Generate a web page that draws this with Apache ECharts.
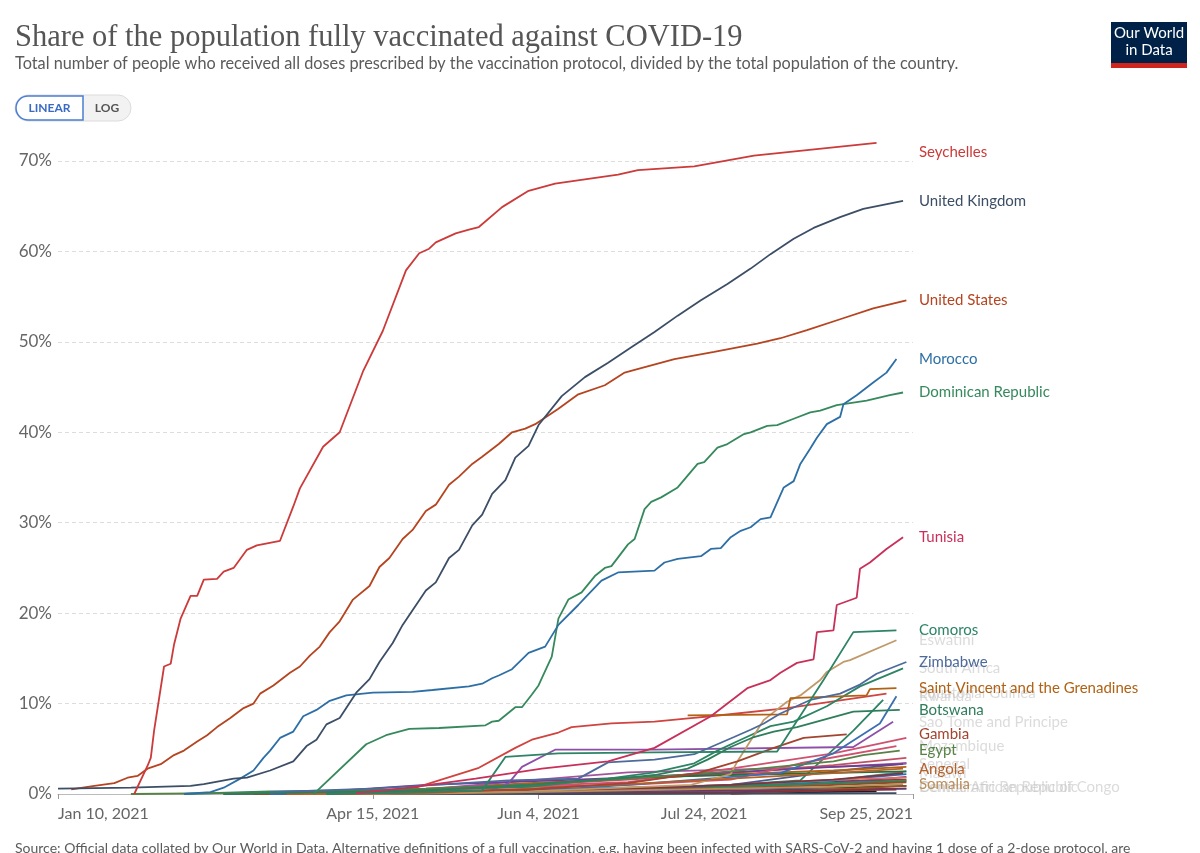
<!DOCTYPE html>
<html>
<head>
<meta charset="utf-8">
<script src="https://cdn.jsdelivr.net/npm/echarts@6/dist/echarts.min.js"></script>
<style>
  html, body { margin: 0; padding: 0; background: #fff; }
  #container { width: 1200px; height: 853px; }
</style>
</head>
<body>
<div id="container"></div>
<script>
// share of population fully vaccinated, %
var seychelles = [['2021-02-02',0],['2021-02-06',3.1],['2021-02-07',4.0],['2021-02-08',7.0],['2021-02-11',14.1],['2021-02-13',14.4],['2021-02-14',16.5],['2021-02-16',19.4],['2021-02-19',21.9],['2021-02-21',21.9],['2021-02-23',23.7],['2021-02-27',23.8],['2021-03-01',24.6],['2021-03-04',25.0],['2021-03-08',27.0],['2021-03-11',27.5],['2021-03-18',28.0],['2021-03-22',31.8],['2021-03-24',33.8],['2021-03-31',38.4],['2021-04-05',40.0],['2021-04-12',46.7],['2021-04-18',51.2],['2021-04-25',57.9],['2021-04-29',59.8],['2021-05-02',60.3],['2021-05-04',61.0],['2021-05-10',62.0],['2021-05-14',62.4],['2021-05-17',62.7],['2021-05-24',64.9],['2021-06-01',66.7],['2021-06-09',67.5],['2021-06-28',68.5],['2021-07-04',69.0],['2021-07-21',69.4],['2021-08-08',70.6],['2021-08-24',71.2],['2021-09-14',72.0]];
var unitedKingdom = [['2021-01-10',0.6],['2021-02-01',0.7],['2021-02-19',0.9],['2021-02-23',1.1],['2021-03-04',1.7],['2021-03-08',1.8],['2021-03-15',2.6],['2021-03-22',3.6],['2021-03-26',5.3],['2021-03-29',6.0],['2021-04-01',7.7],['2021-04-05',8.4],['2021-04-10',11.2],['2021-04-14',12.7],['2021-04-17',14.6],['2021-04-21',16.7],['2021-04-24',18.7],['2021-05-01',22.5],['2021-05-04',23.4],['2021-05-08',26.1],['2021-05-11',27.0],['2021-05-15',29.7],['2021-05-18',30.9],['2021-05-21',33.2],['2021-05-25',34.7],['2021-05-28',37.2],['2021-06-01',38.5],['2021-06-04',40.8],['2021-06-11',44.0],['2021-06-18',46.1],['2021-06-25',47.7],['2021-07-02',49.4],['2021-07-09',51.1],['2021-07-16',52.9],['2021-07-23',54.6],['2021-07-31',56.4],['2021-08-07',58.1],['2021-08-13',59.7],['2021-08-20',61.4],['2021-08-26',62.6],['2021-09-03',63.8],['2021-09-10',64.7],['2021-09-22',65.6]];
var unitedStates = [['2021-01-14',0.5],['2021-01-21',0.9],['2021-01-27',1.2],['2021-01-31',1.8],['2021-02-03',2.0],['2021-02-06',2.8],['2021-02-10',3.3],['2021-02-14',4.3],['2021-02-17',4.8],['2021-02-21',5.8],['2021-02-24',6.5],['2021-02-27',7.4],['2021-03-03',8.4],['2021-03-07',9.5],['2021-03-10',10.0],['2021-03-12',11.1],['2021-03-16',12.0],['2021-03-21',13.4],['2021-03-24',14.1],['2021-03-27',15.3],['2021-03-30',16.3],['2021-04-02',17.9],['2021-04-05',19.1],['2021-04-09',21.5],['2021-04-14',23.0],['2021-04-17',25.1],['2021-04-20',26.1],['2021-04-24',28.2],['2021-04-27',29.2],['2021-05-01',31.3],['2021-05-04',32.0],['2021-05-08',34.2],['2021-05-11',35.1],['2021-05-15',36.5],['2021-05-18',37.3],['2021-05-23',38.7],['2021-05-27',40.0],['2021-05-31',40.4],['2021-06-03',40.9],['2021-06-10',42.6],['2021-06-16',44.2],['2021-06-24',45.2],['2021-06-30',46.6],['2021-07-03',46.9],['2021-07-15',48.1],['2021-07-27',48.9],['2021-08-09',49.8],['2021-08-16',50.4],['2021-08-24',51.3],['2021-09-03',52.5],['2021-09-13',53.7],['2021-09-23',54.6]];
var morocco = [['2021-02-17',0],['2021-02-25',0.2],['2021-03-01',0.7],['2021-03-06',1.7],['2021-03-10',2.6],['2021-03-13',4.0],['2021-03-15',4.8],['2021-03-18',6.2],['2021-03-22',6.9],['2021-03-25',8.6],['2021-03-29',9.3],['2021-04-02',10.3],['2021-04-07',10.9],['2021-04-15',11.2],['2021-04-27',11.3],['2021-05-03',11.5],['2021-05-14',11.9],['2021-05-18',12.2],['2021-05-21',12.8],['2021-05-23',13.1],['2021-05-27',13.8],['2021-06-01',15.6],['2021-06-06',16.3],['2021-06-10',18.7],['2021-06-16',20.9],['2021-06-18',21.7],['2021-06-23',23.6],['2021-06-28',24.5],['2021-07-09',24.7],['2021-07-12',25.6],['2021-07-16',26.0],['2021-07-23',26.3],['2021-07-26',27.1],['2021-07-29',27.2],['2021-08-01',28.4],['2021-08-04',29.1],['2021-08-07',29.5],['2021-08-10',30.4],['2021-08-13',30.6],['2021-08-17',33.9],['2021-08-20',34.6],['2021-08-22',36.5],['2021-08-25',38.2],['2021-08-27',39.4],['2021-08-30',40.9],['2021-09-03',41.7],['2021-09-04',43.1],['2021-09-08',44.1],['2021-09-13',45.5],['2021-09-17',46.6],['2021-09-20',48.1]];
var dominicanRepublic = [['2021-03-28',0],['2021-03-29',0.3],['2021-04-13',5.5],['2021-04-19',6.5],['2021-04-26',7.2],['2021-05-05',7.3],['2021-05-19',7.6],['2021-05-21',8.0],['2021-05-23',8.1],['2021-05-28',9.6],['2021-05-30',9.6],['2021-06-02',11.0],['2021-06-04',12.0],['2021-06-08',15.2],['2021-06-10',19.4],['2021-06-13',21.5],['2021-06-17',22.3],['2021-06-21',24.1],['2021-06-24',25.0],['2021-06-26',25.2],['2021-07-01',27.6],['2021-07-03',28.2],['2021-07-06',31.5],['2021-07-08',32.3],['2021-07-11',32.8],['2021-07-16',33.9],['2021-07-19',35.2],['2021-07-22',36.5],['2021-07-24',36.7],['2021-07-28',38.3],['2021-07-31',38.7],['2021-08-05',39.8],['2021-08-07',40.0],['2021-08-12',40.7],['2021-08-15',40.8],['2021-08-20',41.5],['2021-08-25',42.2],['2021-08-28',42.4],['2021-09-02',43.0],['2021-09-11',43.5],['2021-09-18',44.1],['2021-09-22',44.4]];
var tunisia = [['2021-04-10',0.1],['2021-04-26',0.7],['2021-05-06',1.2],['2021-05-16',1.7],['2021-06-05',2.8],['2021-06-25',3.6],['2021-07-09',5.1],['2021-07-26',8.6],['2021-08-06',11.7],['2021-08-13',12.6],['2021-08-16',13.4],['2021-08-21',14.5],['2021-08-26',14.9],['2021-08-27',17.9],['2021-09-01',18.1],['2021-09-02',20.9],['2021-09-08',21.7],['2021-09-09',24.9],['2021-09-12',25.6],['2021-09-17',27.1],['2021-09-22',28.4]];
var comoros = [['2021-04-01',0],['2021-05-01',0.2],['2021-05-18',0.4],['2021-05-25',4.1],['2021-06-10',4.5],['2021-07-09',4.6],['2021-08-15',4.7],['2021-08-29',12.6],['2021-09-07',17.9],['2021-09-20',18.1]];
var eswatini = [['2021-04-01',0],['2021-06-01',0.3],['2021-07-20',1.0],['2021-08-01',2.2],['2021-08-03',3.6],['2021-08-11',8.2],['2021-08-18',10.2],['2021-08-22',10.9],['2021-08-28',12.6],['2021-08-30',13.5],['2021-09-04',14.6],['2021-09-06',14.8],['2021-09-20',17.0]];
var zimbabwe = [['2021-03-15',0.2],['2021-04-15',0.6],['2021-05-26',1.5],['2021-06-16',1.7],['2021-06-25',3.5],['2021-07-09',3.8],['2021-07-21',4.4],['2021-08-02',6.3],['2021-08-07',7.1],['2021-08-11',7.8],['2021-08-16',8.9],['2021-08-25',10.4],['2021-09-03',11.1],['2021-09-09',12.1],['2021-09-14',13.3],['2021-09-23',14.6]];
var southAfrica = [['2021-02-17',0],['2021-03-15',0.3],['2021-05-01',0.5],['2021-06-01',0.8],['2021-06-25',1.7],['2021-07-09',2.4],['2021-07-21',3.4],['2021-07-28',4.8],['2021-08-04',6.0],['2021-08-13',7.5],['2021-08-20',8.0],['2021-08-30',9.7],['2021-09-09',11.9],['2021-09-22',13.9]];
var saintVincent = [['2021-07-19',8.7],['2021-08-18',8.8],['2021-08-19',10.6],['2021-09-11',10.9],['2021-09-12',11.6],['2021-09-20',11.7]];
var equatorialGuinea = [['2021-03-20',0],['2021-04-10',0.1],['2021-04-27',0.6],['2021-05-17',2.9],['2021-05-28',5.1],['2021-06-02',6.0],['2021-06-10',6.8],['2021-06-14',7.4],['2021-06-26',7.8],['2021-07-09',8.0],['2021-07-20',8.4],['2021-07-26',8.6],['2021-08-18',9.5],['2021-09-17',11.1]];
var rwanda = [['2021-03-15',0],['2021-04-15',0.2],['2021-06-01',0.3],['2021-07-01',1.0],['2021-08-16',2.3],['2021-09-01',4.5],['2021-09-15',7.8],['2021-09-20',10.8]];
var botswana = [['2021-03-01',0],['2021-04-01',0.2],['2021-05-01',0.4],['2021-06-01',1.0],['2021-07-01',1.8],['2021-07-09',2.1],['2021-07-19',2.8],['2021-07-25',3.8],['2021-08-01',5.2],['2021-08-08',6.3],['2021-08-14',6.9],['2021-08-21',7.4],['2021-09-07',9.1],['2021-09-21',9.3]];
var saoTome = [['2021-04-01',0],['2021-05-20',0.3],['2021-05-26',1.2],['2021-05-30',3.0],['2021-06-09',4.9],['2021-07-09',4.9],['2021-09-07',5.2],['2021-09-19',8.0]];
var gambia = [['2021-04-01',0],['2021-06-01',0.5],['2021-07-01',1.2],['2021-07-22',2.3],['2021-08-03',3.6],['2021-08-14',5.1],['2021-08-23',6.2],['2021-09-05',6.6]];
var mozambique = [['2021-04-01',0],['2021-06-01',0.8],['2021-07-01',1.0],['2021-08-01',1.6],['2021-08-22',3.4],['2021-09-20',5.3]];
var egypt = [['2021-02-01',0],['2021-03-01',0.1],['2021-04-01',0.3],['2021-05-01',0.6],['2021-06-01',1.0],['2021-07-01',1.7],['2021-08-01',2.5],['2021-09-01',3.6],['2021-09-10',4.3],['2021-09-21',4.8]];
var senegal = [['2021-03-01',0],['2021-04-01',0.3],['2021-05-01',1.0],['2021-06-01',1.4],['2021-07-01',1.8],['2021-08-01',2.4],['2021-09-01',3.0],['2021-09-22',3.3]];
var angola = [['2021-03-20',0],['2021-05-01',0.1],['2021-06-01',0.6],['2021-07-01',1.1],['2021-08-01',1.7],['2021-09-01',2.3],['2021-09-22',2.8]];
var malawi = [['2021-04-01',0],['2021-06-01',0.4],['2021-07-01',0.6],['2021-08-01',1.0],['2021-09-01',1.6],['2021-09-22',2.3]];
var somalia = [['2021-03-25',0],['2021-05-01',0.05],['2021-06-01',0.2],['2021-07-01',0.4],['2021-08-01',0.6],['2021-09-01',0.8],['2021-09-22',1.1]];
var centralAfricanRepublic = [['2021-05-01',0],['2021-07-01',0.1],['2021-08-01',0.2],['2021-09-20',0.5]];
var drCongo = [['2021-04-20',0],['2021-06-01',0.01],['2021-08-01',0.05],['2021-09-20',0.1]];
var kenya = [['2021-03-05',0],['2021-05-01',0.05],['2021-06-01',0.1],['2021-07-01',0.5],['2021-08-01',0.9],['2021-09-01',1.4],['2021-09-23',1.6]];
var ghana = [['2021-03-01',0],['2021-04-01',0.05],['2021-05-25',0.3],['2021-06-20',0.5],['2021-08-01',0.8],['2021-09-01',1.5],['2021-09-23',2.2]];
var nigeria = [['2021-03-05',0],['2021-06-01',0.1],['2021-07-01',0.5],['2021-08-01',0.6],['2021-09-01',0.7],['2021-09-23',0.9]];
var uganda = [['2021-03-10',0],['2021-06-01',0.1],['2021-07-01',0.3],['2021-08-01',0.8],['2021-09-01',1.2],['2021-09-23',1.9]];
var ethiopia = [['2021-03-13',0],['2021-06-01',0.2],['2021-07-01',0.5],['2021-08-01',0.7],['2021-09-01',1.2],['2021-09-23',1.5]];
var cameroon = [['2021-04-12',0],['2021-06-01',0.1],['2021-08-01',0.3],['2021-09-23',0.6]];
var zambia = [['2021-04-14',0],['2021-06-01',0.3],['2021-07-01',0.6],['2021-08-01',1.0],['2021-09-01',1.6],['2021-09-23',1.8]];
var namibia = [['2021-03-17',0],['2021-05-01',0.1],['2021-06-01',0.3],['2021-07-01',0.6],['2021-08-01',1.0],['2021-08-22',1.5],['2021-09-07',7.0],['2021-09-16',10.4]];
var coteDIvoire = [['2021-03-01',0],['2021-04-01',0.1],['2021-06-01',0.4],['2021-08-01',1.0],['2021-09-01',1.5],['2021-09-23',2.5]];
var liberia = [['2021-03-15',0],['2021-05-01',0.1],['2021-07-01',0.3],['2021-08-01',1.0],['2021-09-01',2.5],['2021-09-23',3.4]];
var guinea = [['2021-03-01',0],['2021-04-01',0.2],['2021-05-01',0.6],['2021-06-01',1.2],['2021-07-01',1.7],['2021-08-01',2.2],['2021-09-01',2.6],['2021-09-23',3.0]];
var togo = [['2021-03-10',0],['2021-05-01',0.5],['2021-06-01',1.5],['2021-07-01',2.4],['2021-08-01',2.7],['2021-09-01',3.0],['2021-09-23',3.4]];
var mauritania = [['2021-03-26',0],['2021-05-01',0.5],['2021-06-01',1.0],['2021-07-01',1.6],['2021-08-01',2.3],['2021-09-01',3.2],['2021-09-23',4.0]];
var sierraLeone = [['2021-03-15',0],['2021-05-01',0.2],['2021-06-01',0.5],['2021-07-01',0.7],['2021-08-01',0.9],['2021-09-01',1.2],['2021-09-23',1.4]];
var lesotho = [['2021-03-10',0],['2021-05-01',0.5],['2021-06-01',0.9],['2021-07-01',1.3],['2021-08-01',2.8],['2021-09-01',4.5],['2021-09-23',6.2]];
var chad = [['2021-06-04',0],['2021-08-01',0.1],['2021-09-14',0.3]];
var sudan = [['2021-03-10',0],['2021-06-01',0.2],['2021-08-01',0.6],['2021-09-23',1.3]];
var niger = [['2021-04-01',0],['2021-06-01',0.2],['2021-08-01',0.4],['2021-09-23',0.6]];
var djibouti = [['2021-03-20',0],['2021-05-01',0.5],['2021-06-01',1.0],['2021-07-01',1.8],['2021-08-01',2.1],['2021-09-23',2.5]];
var tanzania = [['2021-08-01',0],['2021-09-01',0.5],['2021-09-23',0.9]];

var xTicks = ['2021-01-10', '2021-04-15', '2021-06-04', '2021-07-24', '2021-09-25'];
var yTicks = [0, 10, 20, 30, 40, 50, 60, 70];

// name, data, colour, label ('' none, 'on' solid, 'off' faded)
var countries = [
  ['Kenya', kenya, '#883039', ''],
  ['Ghana', ghana, '#286bbb', ''],
  ['Nigeria', nigeria, '#18470f', ''],
  ['Uganda', uganda, '#6d3e91', ''],
  ['Ethiopia', ethiopia, '#578145', ''],
  ['Cameroon', cameroon, '#996d39', ''],
  ['Zambia', zambia, '#e56e5a', ''],
  ['Namibia', namibia, '#2c8465', ''],
  ["Cote d'Ivoire", coteDIvoire, '#38aaba', ''],
  ['Liberia', liberia, '#4c5a8c', ''],
  ['Guinea', guinea, '#b16214', ''],
  ['Togo', togo, '#a2559c', ''],
  ['Mauritania', mauritania, '#c15065', ''],
  ['Sierra Leone', sierraLeone, '#2c8465', ''],
  ['Lesotho', lesotho, '#d05070', ''],
  ['Chad', chad, '#1d1d1d', ''],
  ['Sudan', sudan, '#8c4d2b', ''],
  ['Niger', niger, '#5a3b80', ''],
  ['Djibouti', djibouti, '#2c6e3a', ''],
  ['Tanzania', tanzania, '#9a5129', ''],
  ['Central African Republic', centralAfricanRepublic, '#883039', 'off'],
  ['Democratic Republic of Congo', drCongo, '#3c4e66', 'off'],
  ['Somalia', somalia, '#bc8e5a', 'on'],
  ['Malawi', malawi, '#883039', 'off'],
  ['Angola', angola, '#b6602a', 'on'],
  ['Senegal', senegal, '#6d3e91', 'off'],
  ['Egypt', egypt, '#578145', 'on'],
  ['Mozambique', mozambique, '#d05070', 'off'],
  ['Gambia', gambia, '#a2442f', 'on'],
  ['Sao Tome and Principe', saoTome, '#8e4fa8', 'off'],
  ['Botswana', botswana, '#2e7d5b', 'on'],
  ['Rwanda', rwanda, '#3c6eb4', 'off'],
  ['Equatorial Guinea', equatorialGuinea, '#d0433f', 'off'],
  ['Saint Vincent and the Grenadines', saintVincent, '#b16214', 'on'],
  ['South Africa', southAfrica, '#2c8465', 'off'],
  ['Zimbabwe', zimbabwe, '#4c6a9c', 'on'],
  ['Eswatini', eswatini, '#c19a6b', 'off'],
  ['Comoros', comoros, '#2c8465', 'on'],
  ['Tunisia', tunisia, '#c8305a', 'on'],
  ['Dominican Republic', dominicanRepublic, '#36895c', 'on'],
  ['Morocco', morocco, '#2d6fa5', 'on'],
  ['United States', unitedStates, '#b5441f', 'on'],
  ['United Kingdom', unitedKingdom, '#3c4e66', 'on'],
  ['Seychelles', seychelles, '#cc3a3a', 'on']
];

var MONTHS = ['Jan', 'Feb', 'Mar', 'Apr', 'May', 'Jun', 'Jul', 'Aug', 'Sep', 'Oct', 'Nov', 'Dec'];
function toTime(s) {
  var p = s.split('-');
  return Date.UTC(+p[0], +p[1] - 1, +p[2]);
}
function fmtDate(v) {
  var d = new Date(v);
  return MONTHS[d.getUTCMonth()] + ' ' + d.getUTCDate() + ', ' + d.getUTCFullYear();
}

var tickTimes = xTicks.map(toTime);

var dom = document.getElementById('container');
var myChart = echarts.init(dom, null, { renderer: 'canvas' });

var series = countries.map(function (c) {
  return {
    name: c[0],
    type: 'line',
    data: c[1].map(function (p) { return [toTime(p[0]), p[1]]; }),
    showSymbol: false,
    clip: false,
    silent: true,
    z: c[3] === 'on' ? 3 : 2,
    lineStyle: { color: c[2], width: 1.8 },
    itemStyle: { color: c[2] },
    emphasis: { disabled: true }
  };
});

var header = [
  {
    type: 'text', left: 15, top: 22,
    style: { text: 'Share of the population fully vaccinated against COVID-19', fill: '#555', font: '30.5px "Liberation Serif", "DejaVu Serif", serif' }
  },
  {
    type: 'text', left: 15, top: 56,
    style: { text: 'Total number of people who received all doses prescribed by the vaccination protocol, divided by the total population of the country.', fill: '#5b5b5b', font: '16.3px Lato, sans-serif' }
  },
  // LINEAR / LOG toggle
  { type: 'rect', shape: { x: 15, y: 95, width: 116, height: 26, r: 13 }, style: { fill: '#f2f2f2', stroke: '#dcdcdc', lineWidth: 1 } },
  { type: 'rect', shape: { x: 16, y: 96, width: 67, height: 24, r: [12, 0, 0, 12] }, style: { fill: '#fff', stroke: '#4a7fd4', lineWidth: 1.5 } },
  { type: 'text', x: 49.5, y: 108, style: { text: 'LINEAR', fill: '#3a6bc2', font: 'bold 12px Lato, sans-serif', align: 'center', verticalAlign: 'middle' } },
  { type: 'text', x: 107, y: 108, style: { text: 'LOG', fill: '#555', font: 'bold 12px Lato, sans-serif', align: 'center', verticalAlign: 'middle' } },
  // logo
  { type: 'rect', shape: { x: 1111, y: 22, width: 76, height: 46 }, style: { fill: '#002147' } },
  { type: 'rect', shape: { x: 1111, y: 63, width: 76, height: 5 }, style: { fill: '#ce261e' } },
  { type: 'text', x: 1149, y: 33, style: { text: 'Our World', fill: '#fff', font: '15px Lato, sans-serif', align: 'center', verticalAlign: 'middle' } },
  { type: 'text', x: 1149, y: 50, style: { text: 'in Data', fill: '#fff', font: '15px Lato, sans-serif', align: 'center', verticalAlign: 'middle' } },
  // source note
  {
    type: 'text', left: 15, top: 841,
    style: { text: 'Source: Official data collated by Our World in Data. Alternative definitions of a full vaccination, e.g. having been infected with SARS-CoV-2 and having 1 dose of a 2-dose protocol, are', fill: '#5b5b5b', font: '14px Lato, sans-serif' }
  }
];

var option = {
  animation: false,
  backgroundColor: '#fff',
  grid: { left: 58, right: 287, top: 161, bottom: 59 },
  xAxis: {
    type: 'value',
    min: tickTimes[0],
    max: tickTimes[tickTimes.length - 1],
    axisLine: { show: true, lineStyle: { color: '#bbb', width: 1 } },
    axisTick: { show: true, customValues: tickTimes, length: 5, lineStyle: { color: '#999' } },
    axisLabel: {
      customValues: tickTimes,
      formatter: fmtDate,
      color: '#666',
      fontSize: 16,
      fontFamily: 'Lato',
      margin: 12,
      alignMinLabel: 'left',
      alignMaxLabel: 'right'
    },
    splitLine: { show: false }
  },
  yAxis: {
    type: 'value',
    min: yTicks[0],
    max: yTicks[yTicks.length - 1],
    interval: 10,
    axisLine: { show: false },
    axisTick: { show: false },
    axisLabel: { formatter: '{value}%', color: '#666', fontSize: 17, fontFamily: 'Lato', margin: 6 },
    splitLine: { lineStyle: { color: '#ddd', type: [4, 3] } }
  },
  graphic: header,
  series: series
};

myChart.setOption(option);

// end labels at x = 919, centred on the last value (kept inside the plot)
var faded = [], solid = [];
countries.forEach(function (c) {
  if (!c[3]) return;
  var last = c[1][c[1].length - 1][1];
  var y = myChart.convertToPixel({ yAxisIndex: 0 }, last);
  y = Math.min(Math.max(y, 152), 787);
  var el = {
    type: 'text', x: 919, y: y, z: 100,
    style: {
      text: c[0],
      fill: c[3] === 'on' ? c[2] : 'rgba(190,190,190,0.55)',
      font: '15px Lato, sans-serif',
      verticalAlign: 'middle'
    }
  };
  (c[3] === 'on' ? solid : faded).push(el);
});
myChart.setOption({ graphic: header.concat(faded, solid) });

window.addEventListener('resize', myChart.resize);
</script>
</body>
</html>
